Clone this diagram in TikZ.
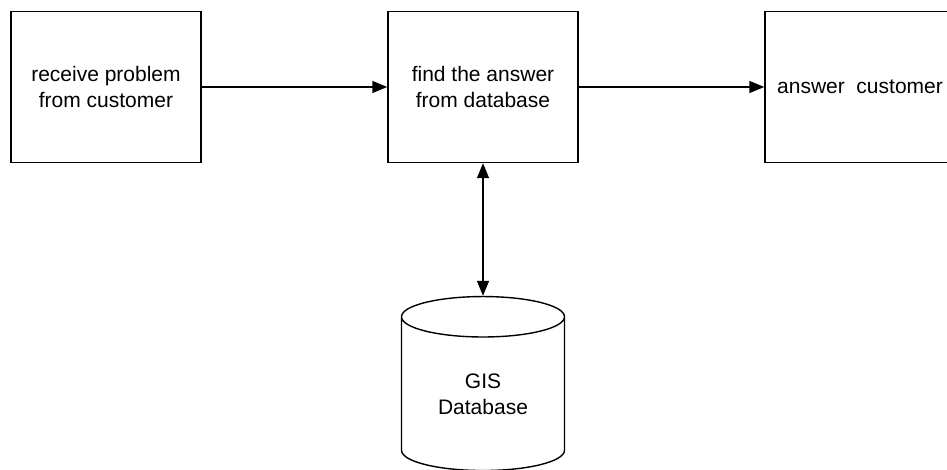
\documentclass[tikz,border=0pt]{standalone}
\usepackage{fontspec}
\setmainfont{Liberation Sans}
\usetikzlibrary{shapes.geometric,arrows.meta,positioning}

\tikzset{stepbox/.style={draw,minimum width=190bp,minimum height=151bp,inner sep=0pt},
  store/.style={draw,cylinder,shape border rotate=90,aspect=0.45,
    minimum width=163bp,minimum height=174bp,inner sep=0pt}}

\begin{document}
\begin{tikzpicture}[x=1bp,y=1bp,>={Triangle[length=15bp,width=12bp]},
  node distance=377bp,line width=1.4bp,
  font=\fontsize{21bp}{26bp}\selectfont,align=center]
  \useasboundingbox (0,0) rectangle (947,-470);

  \node [stepbox] at (106,-87)      (recv) {receive problem\\from customer};
  \node [stepbox] [right of=recv]   (find) {find the answer\\from database};
  \node [stepbox] [right of=find]   (ans)  {answer\ \ customer};
  \node [store] [below of=find,node distance=307bp] (db) {GIS\\Database};

  \path[->] (recv) edge (find)
            (find) edge (ans);
  \path[<->] (find) edge (db);
\end{tikzpicture}
\end{document}
